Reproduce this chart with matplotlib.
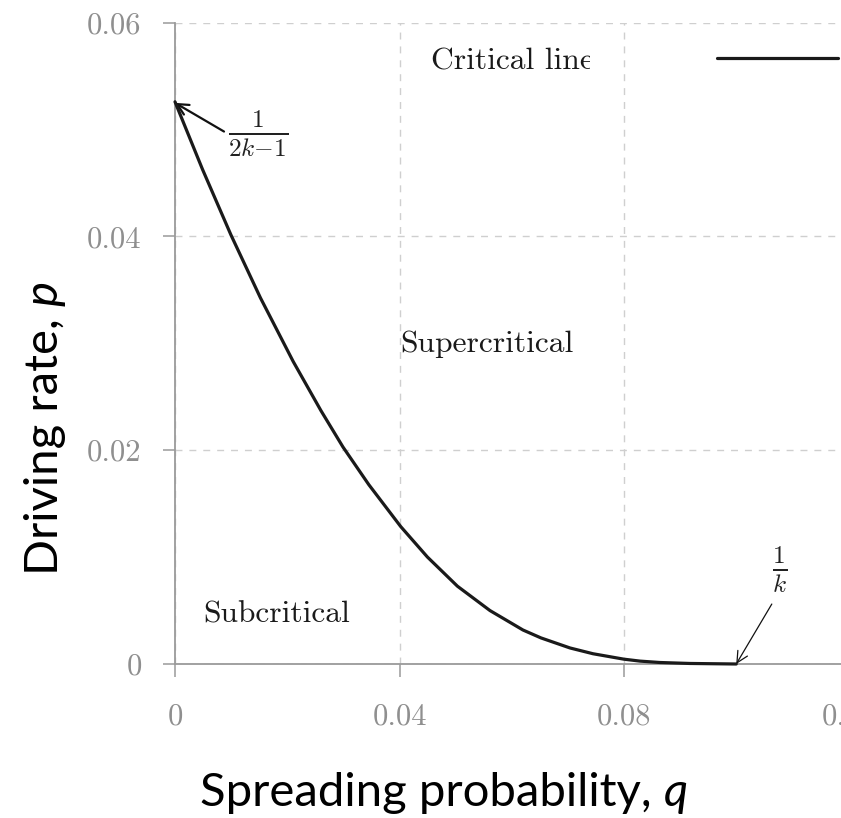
import matplotlib
matplotlib.use('Agg')
import matplotlib.pyplot as plt
from matplotlib.transforms import Bbox, TransformedBbox

# Critical line
q_vals = [0.0, 0.00490, 0.00998, 0.01522, 0.02106, 0.02601, 0.02993, 0.03453,
          0.04023, 0.04497, 0.05032, 0.05612, 0.06200, 0.06521, 0.07038, 0.07448,
          0.08000, 0.08285, 0.08641, 0.09176, 0.10000]
p_vals = [0.0526, 0.04628, 0.04013, 0.03426, 0.02830, 0.02370, 0.02030, 0.01678,
          0.01285, 0.01001, 0.00728, 0.00500, 0.00318, 0.00244, 0.00150, 0.00096,
          0.00045, 0.00027, 0.00014, 0.00005, 0.0]

x_ticks = [0, 0.04, 0.08, 0.12]
x_ticklabels = ['0', '0.04', '0.08', '0.12']
y_ticks = [0, 0.02, 0.04, 0.06]
y_ticklabels = ['0', '0.02', '0.04', '0.06']

plt.rcParams['mathtext.fontset'] = 'cm'

W, H = 841, 818
fig = plt.figure(figsize=(W / 100, H / 100), dpi=100)
ax = fig.add_axes([175 / W, 154 / H, (848.5 - 175) / W, (664 - 22.7) / H])
ax.set_xlim(0, 0.12)
ax.set_ylim(0, 0.06)

ax.grid(True, ls=(0, (5, 5)), color='#cfcfcf', lw=1.0)
ax.set_axisbelow(True)
for s in ['top', 'right']:
    ax.spines[s].set_visible(False)
for s in ['left', 'bottom']:
    ax.spines[s].set_color('#9a9a9a')
    ax.spines[s].set_linewidth(1.3)

ax.set_xticks(x_ticks)
ax.set_xticklabels(x_ticklabels)
ax.set_yticks(y_ticks)
ax.set_yticklabels(y_ticklabels)
ax.tick_params(direction='out', length=9, width=1.1, color='#9a9a9a',
               labelcolor='#8f8f8f', labelsize=22)
ax.tick_params(axis='x', pad=19)
ax.tick_params(axis='y', pad=15)
for lbl in ax.get_xticklabels() + ax.get_yticklabels():
    lbl.set_fontfamily('cmr10')

ax.plot(q_vals, p_vals, color='#1a1a1a', lw=2.3, clip_on=False,
        label='Critical line', solid_capstyle='round', solid_joinstyle='round',
        zorder=5)

leg = ax.legend(loc='center right', bbox_to_anchor=(838 / W, 1 - 61 / H),
                bbox_transform=fig.transFigure, frameon=False, markerfirst=False,
                handlelength=3.85, handletextpad=3.9, borderpad=0, borderaxespad=0,
                prop={'family': 'cmr10', 'size': 22.7})
for t in leg.get_texts():
    t.set_color('#1a1a1a')
    t.set_clip_box(TransformedBbox(Bbox([[0, 0], [590 / W, 1]]), fig.transFigure))
    t.set_clip_on(True)

ax.text(0.0401, 0.0292, 'Supercritical', family='cmr10', size=22.7,
        color='#1a1a1a', va='baseline', ha='left')
ax.text(0.005, 0.0039, 'Subcritical', family='cmr10', size=22.7,
        color='#1a1a1a', va='baseline', ha='left')

ax.annotate(r'$\frac{1}{2k{-}1}$', xy=(0, 0.0525), xytext=(0.01479, 0.0496),
            ha='center', va='center', fontsize=26, color='#222222',
            annotation_clip=False,
            arrowprops=dict(arrowstyle='->', lw=1.6, color='#111111',
                            relpos=(0, 0.5), shrinkA=1, shrinkB=0,
                            mutation_scale=20))
ax.annotate(r'$\frac{1}{k}$', xy=(0.1, 0), xytext=(0.1078, 0.0088),
            ha='center', va='center', fontsize=26, color='#222222',
            annotation_clip=False,
            arrowprops=dict(arrowstyle='->', lw=0.9, color='#111111',
                            relpos=(0.3, 0), shrinkA=5, shrinkB=0,
                            mutation_scale=20))

# axis labels (sans, with italic variable)
t1 = fig.text(200 / W, 1 - 806 / H, 'Spreading probability, ', family='Lato',
              size=34, va='baseline', ha='left')
ax.annotate('q', xy=(1, 0), xycoords=t1, va='bottom', ha='left',
            family='Lato', style='italic', size=34, annotation_clip=False)
t2 = fig.text(45 / W, 1 - 575 / H, 'Driving rate, ', rotation=90, family='Lato',
              size=34, ha='center', va='bottom')
ax.annotate('p', xy=(0.5, 1), xycoords=t2, rotation=90, va='bottom', ha='center',
            family='Lato', style='italic', size=34, annotation_clip=False)

fig.savefig('out.png', dpi=100)
